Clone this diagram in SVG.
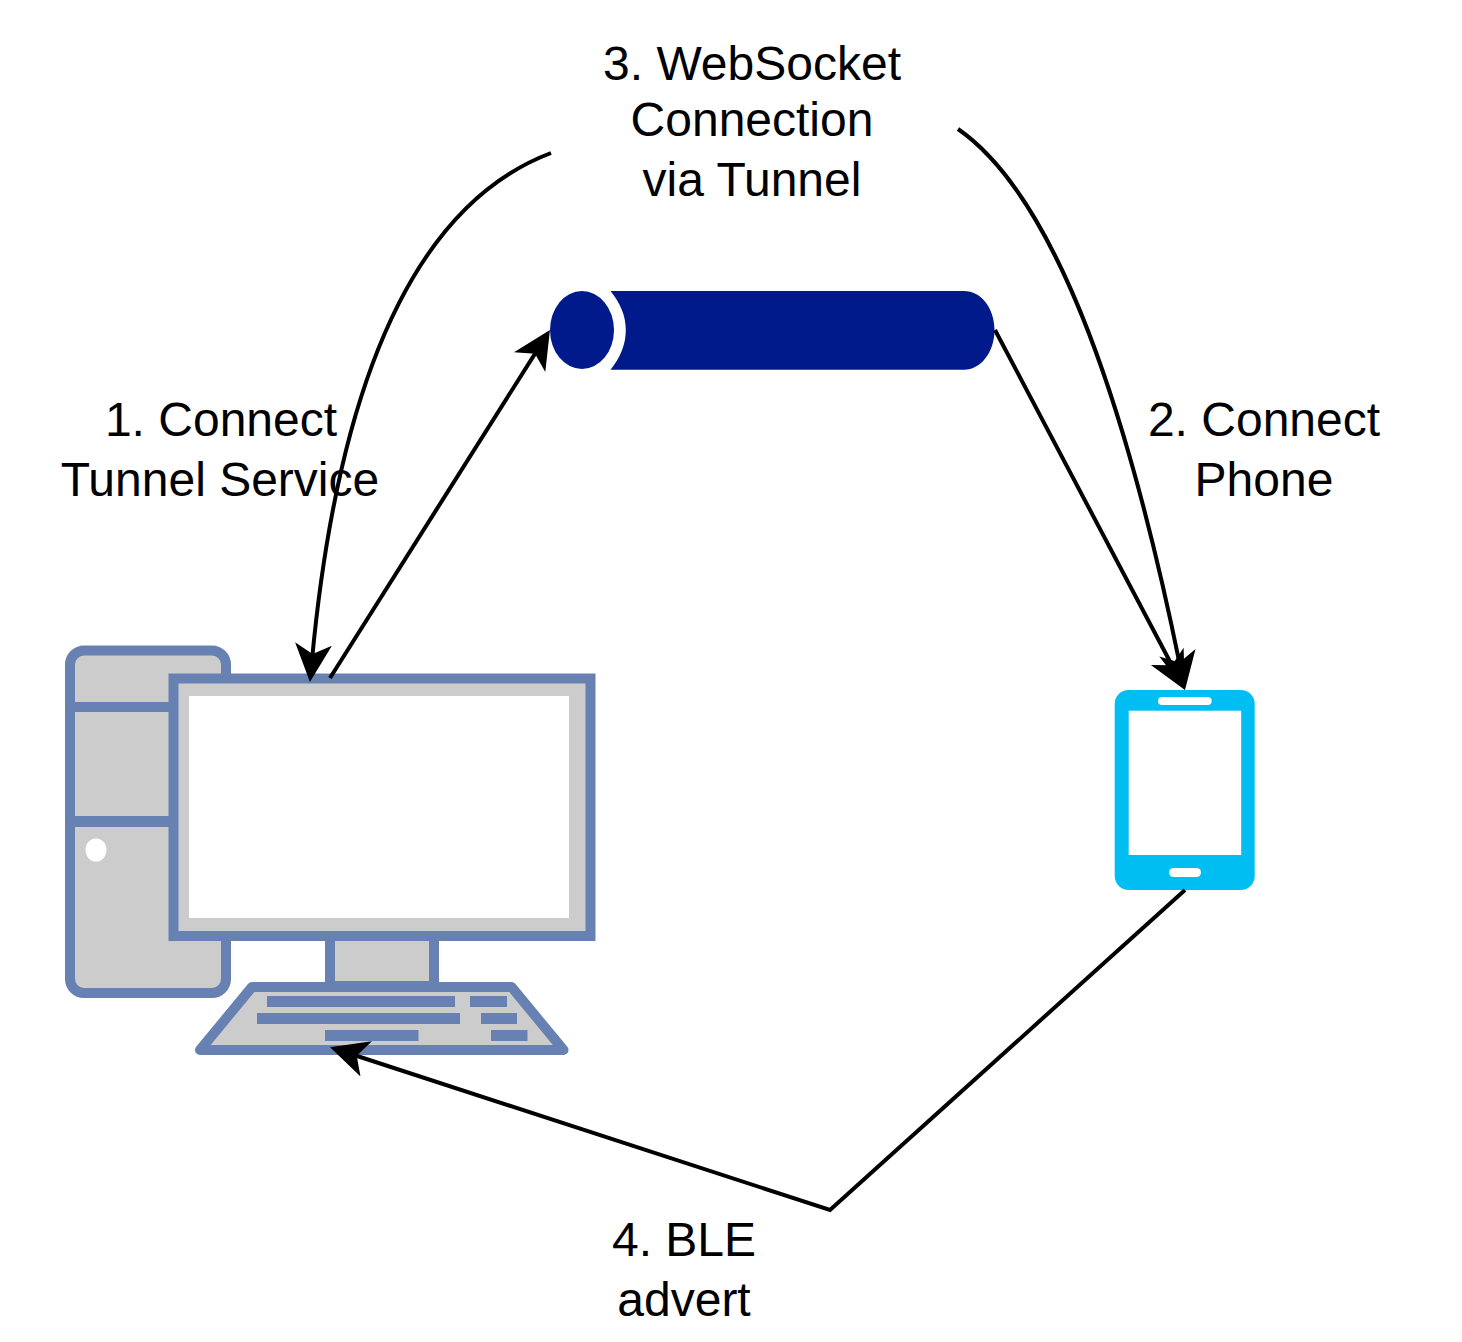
<svg xmlns="http://www.w3.org/2000/svg" width="1462" height="1342" viewBox="0 0 1462 1342">
<defs>
<style>
.pc{fill:#ccc;stroke:#6881b3;stroke-width:10}
.key{fill:#6881b3}
.hole{fill:#fff}
.c{fill:none;stroke:#000;stroke-width:4;marker-end:url(#a)}
text{font-family:"Liberation Sans",Arial,sans-serif;font-size:48px;fill:#000;text-anchor:middle}
</style>
<marker id="a" markerUnits="userSpaceOnUse" markerWidth="40" markerHeight="40" refX="16" refY="20" orient="auto"><path d="M38 20L0 1.5L10 20L0 38.5Z" fill="#000"/></marker>
</defs>
<rect width="1462" height="1342" fill="#fff"/>
<g id="computer">
<rect class="pc" x="70" y="650.5" width="156" height="342.500" rx="14"/>
<path class="key" d="M70 702H175V712H70ZM70 816H175V827H70Z"/>
<ellipse class="hole" cx="96" cy="850" rx="10.500" ry="11.500"/>
<rect class="pc" x="330" y="936" width="104" height="50"/>
<path class="pc" stroke-linejoin="round" d="M252 987H511.500L563.500 1050H200Z"/>
<rect class="pc" x="173.500" y="678.500" width="417" height="257.500"/>
<rect class="hole" x="189" y="696" width="380" height="222"/>
<path class="key" d="M267 996H455V1007H267ZM470 996H507V1007H470ZM257 1013H460V1024H257ZM481 1013H517V1024H481ZM325 1030H418.500V1041H325ZM491 1030H527.500V1041H491Z"/>
</g>
<g id="phone">
<rect x="1114.700" y="690" width="140" height="200" rx="14" fill="#00bef2"/>
<rect class="hole" x="1128.700" y="710.700" width="112.500" height="144.300"/>
<rect class="hole" x="1158" y="697" width="53.700" height="8" rx="4"/>
<rect class="hole" x="1169" y="868" width="32" height="9" rx="4.500"/>
</g>
<g id="tunnel">
<ellipse cx="582" cy="330" rx="32" ry="39" fill="#001a8c"/>
<path fill="#001a8c" d="M610.500 291H964C981 291 994.500 308 994.500 330S981 369.700 964 369.700H610.500C620 358 625.800 345 625.800 330S620 303 610.500 291Z"/>
</g>
<g id="connectors">
<path class="c" d="M330 678L538.200 348.600"/>
<path class="c" d="M995 330L1174.700 670.500"/>
<path class="c" d="M551 153C440 195 343 330 312 660"/>
<path class="c" d="M958 129C1060 200 1130 420 1180.600 668.400"/>
<path class="c" d="M1185 890L830 1210L351 1054"/>
</g>
<g id="label-1"><text x="221" y="436">1. Connect</text><text x="220" y="496">Tunnel Service</text></g>
<g id="label-2"><text x="1264" y="436">2. Connect</text><text x="1264" y="496">Phone</text></g>
<g id="label-3"><text x="752" y="80">3. WebSocket</text><text x="752" y="136">Connection</text><text x="752" y="196">via Tunnel</text></g>
<g id="label-4"><text x="684" y="1256">4. BLE</text><text x="684" y="1316">advert</text></g>
</svg>
